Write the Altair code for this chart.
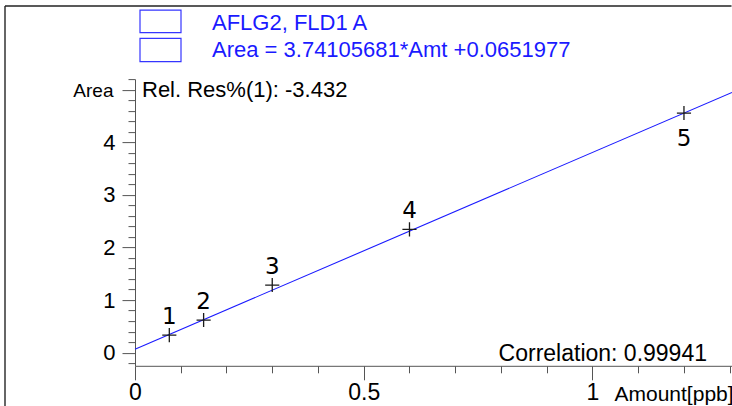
import altair as alt
import pandas as pd

# ---- data ----
amount = [0.075, 0.15, 0.3, 0.6, 1.2]
area = [0.334, 0.62, 1.285, 2.344, 4.555]
level = ["1", "2", "3", "4", "5"]
level_no = [1, 2, 3, 4, 5]

slope = 3.74105681
intercept = 0.0651977

x_domain = [0, 1.305]
y_domain = [-0.25, 5.2]
x_major = [0, 0.5, 1]
x_minor = [0.1, 0.2, 0.3, 0.4, 0.6, 0.7, 0.8, 0.9, 1.1, 1.2, 1.3]
y_major = [0, 1, 2, 3, 4, 5]
y_minor = [-0.2, 0.2, 0.4, 0.6, 0.8, 1.2, 1.4, 1.6, 1.8, 2.2, 2.4, 2.6, 2.8,
           3.2, 3.4, 3.6, 3.8, 4.2, 4.4, 4.6, 4.8, 5.2]

legend_title = "AFLG2, FLD1 A"
legend_equation = "Area = 3.74105681*Amt +0.0651977"
rel_res_text = "Rel. Res%(1): -3.432"
corr_text = "Correlation: 0.99941"
x_title = "Amount[ppb]"
y_title = "Area"

# ---- tables ----
pts = pd.DataFrame({"amount": amount, "area": area, "level": level, "n": level_no})
fit = pd.DataFrame({"amount": x_domain,
                    "area": [slope * v + intercept for v in x_domain]})

W, H = 597, 286.7
FONT = "Liberation Sans"
AXC = "#555555"
BLUE = "#1a1aff"

xs = alt.Scale(domain=x_domain, nice=False, zero=False)
ys = alt.Scale(domain=y_domain, nice=False, zero=False)

x_main = alt.X("amount:Q", scale=xs, axis=alt.Axis(
    orient="bottom",
    values=x_major, tickSize=14, labelPadding=2, labelFontSize=23,
    labelFont=FONT, labelColor="black", domainColor=AXC, tickColor=AXC,
    labelFlush=False, labelOverlap=False, grid=False, format="~g",
    title=x_title, titleFont=FONT, titleFontSize=21, titleFontWeight="normal",
    titleColor="black", titleAlign="left", titleBaseline="alphabetic",
    titleX=479, titleY=35, titleAnchor="start"))
y_main = alt.Y("area:Q", scale=ys, axis=alt.Axis(
    orient="left",
    values=y_major, tickSize=13, labelPadding=7, labelFontSize=22,
    labelFont=FONT, labelColor="black", domainColor=AXC, tickColor=AXC,
    format="d",
    labelExpr="datum.value == 5 ? '' : datum.label", labelFlush=False,
    labelOverlap=False, grid=False,
    title=y_title, titleFont=FONT, titleFontSize=19, titleFontWeight="normal",
    titleColor="black", titleAngle=0, titleAlign="right",
    titleBaseline="alphabetic", titleX=-22, titleY=17.6))

line = alt.Chart(fit).mark_line(color=BLUE, strokeWidth=1.1).encode(
    x=x_main, y=y_main)

cross = alt.Chart(pts).mark_point(
    shape="M-1,0L1,0M0,-1L0,1", size=200, filled=False, color="#1a1a1a",
    strokeWidth=1.3, opacity=1).encode(x="amount:Q", y="area:Q")

lab_above = alt.Chart(pts).transform_filter("datum.n < 5").mark_text(
    font="DejaVu Sans", fontSize=23, color="black", baseline="alphabetic",
    dy=-11).encode(x="amount:Q", y="area:Q", text="level:N")
lab_below = alt.Chart(pts).transform_filter("datum.n == 5").mark_text(
    font="DejaVu Sans", fontSize=23, color="black", baseline="alphabetic",
    dy=33).encode(x="amount:Q", y="area:Q", text="level:N")

main = alt.layer(line, cross, lab_above, lab_below)

# minor-tick axes
minor = alt.Chart(pts).mark_point(opacity=0).encode(
    x=alt.X("amount:Q", scale=xs, axis=alt.Axis(
        values=x_minor, tickSize=7, labels=False, domain=False,
        tickColor=AXC, grid=False, title=None, orient="bottom")),
    y=alt.Y("area:Q", scale=ys, axis=alt.Axis(
        values=y_minor, tickSize=7, labels=False, domain=False,
        tickColor=AXC, grid=False, title=None, orient="left")))

# annotations (text taken from the named strings above)
ann = pd.DataFrame({"t": [rel_res_text]})
rel = alt.Chart(ann).mark_text(font=FONT, fontSize=22, color="black",
                               align="left", baseline="alphabetic").encode(
    x=alt.value(7), y=alt.value(18.2), text="t:N")
corr = alt.Chart(pd.DataFrame({"t": [corr_text]})).mark_text(
    font=FONT, fontSize=23, color="black", align="right",
    baseline="alphabetic").encode(x=alt.value(572), y=alt.value(281.6), text="t:N")
leg1 = alt.Chart(pd.DataFrame({"t": [legend_title]})).mark_text(
    font=FONT, fontSize=22, color=BLUE, align="left",
    baseline="alphabetic").encode(x=alt.value(77), y=alt.value(-49.6), text="t:N")
leg2 = alt.Chart(pd.DataFrame({"t": [legend_equation]})).mark_text(
    font=FONT, fontSize=22, color=BLUE, align="left",
    baseline="alphabetic").encode(x=alt.value(77), y=alt.value(-22), text="t:N")
box1 = alt.Chart(pd.DataFrame({"t": [legend_title]})).mark_rect(
    fill="white", stroke="#3535ff", strokeWidth=1.2).encode(
    x=alt.value(5), x2=alt.value(46), y=alt.value(-69), y2=alt.value(-46.5))
box2 = alt.Chart(pd.DataFrame({"t": [legend_equation]})).mark_rect(
    fill="white", stroke="#3535ff", strokeWidth=1.2).encode(
    x=alt.value(5), x2=alt.value(46), y=alt.value(-40.8), y2=alt.value(-17.5))
frame_l = alt.Chart(pd.DataFrame({"t": [0]})).mark_rule(
    color="#333333", strokeWidth=1.5).encode(
    x=alt.value(-130), y=alt.value(-73.1), y2=alt.value(340))
frame_t = alt.Chart(pd.DataFrame({"t": [0]})).mark_rule(
    color="#222222", strokeWidth=1.6).encode(
    x=alt.value(-130), x2=alt.value(596.5), y=alt.value(-73.1))

deco = alt.layer(rel, corr, leg1, leg2, box1, box2, frame_l, frame_t)

chart = alt.layer(minor, main, deco).resolve_scale(
    x="independent", y="independent").resolve_axis(
    x="independent", y="independent").properties(
    width=W, height=H,
    autosize=alt.AutoSizeParams(type="none"),
    padding={"left": 135, "top": 79.1, "right": 0, "bottom": 40.2},
    background="white",
).configure_view(stroke=None)

chart.save("out.html", embed_options={"renderer": "svg", "actions": False})
